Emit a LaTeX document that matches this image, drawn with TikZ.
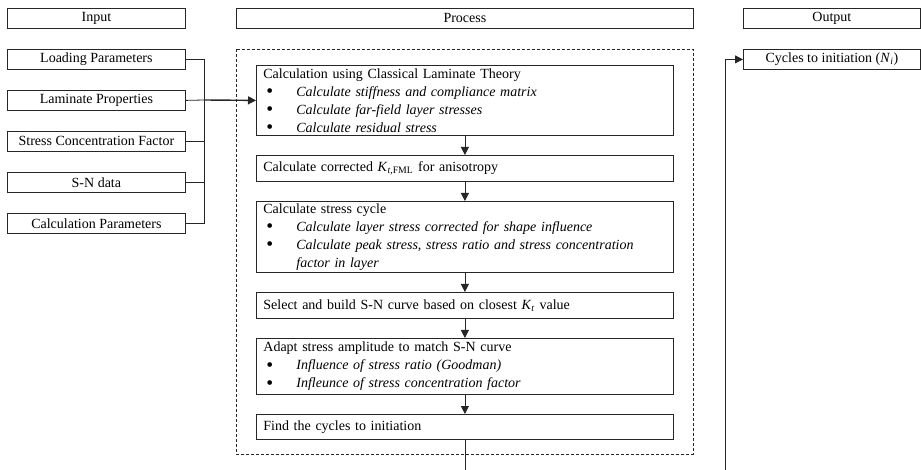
\documentclass[tikz,border=0pt]{standalone}
\usepackage{fontspec}
\setmainfont{Liberation Serif}
\usetikzlibrary{arrows.meta}
% bullet line inside a step box: dot, then italic text
\newcommand\bulitem[1]{\\\makebox[33pt][l]{\hspace{3pt}\smash{\raisebox{-1.3pt}{\scalebox{1.4}{\textbullet}}}}\textit{#1}}
\begin{document}
\begin{tikzpicture}[x=1pt,y=-1pt,
  box/.style={draw=black!85,line width=0.8pt,rectangle,inner sep=0pt,
    font=\fontsize{14}{18}\selectfont},
  colhead/.style={box,minimum height=20pt,anchor=north west},
  inbox/.style={box,minimum width=178pt,minimum height=20pt,anchor=north west},
  stepbox/.style={box,anchor=north west,text width=403pt,inner xsep=7pt,align=left},
  link/.style={draw=black!85,line width=0.8pt},
  arr/.style={link,-{Triangle[length=8pt,width=8pt]}},
]
\useasboundingbox (0,0) rectangle (921,470);

% column headings
\node[colhead,minimum width=178pt] (hin) at (7,8) {Input};
\node[colhead,minimum width=457pt] (hproc) at (236,8) {Process};
\node[colhead,minimum width=177pt] (hout) at (743,8) {Output};

% inputs
\node[inbox] (lp) at (7,49) {Loading Parameters};
\node[inbox] (lam) at (7,90) {Laminate Properties};
\node[inbox] (sc) at (7,131) {Stress Concentration Factor};
\node[inbox] (sn) at (7,172) {S-N data};
\node[inbox] (cp) at (7,213) {Calculation Parameters};

% process container
\draw[draw=black!85,line width=0.8pt,dash pattern=on 3pt off 2pt] (236,49) rectangle (693,454);

% process steps
\node[stepbox,minimum height=70pt] (c1) at (256,65)
  {Calculation using Classical Laminate Theory%
   \bulitem{Calculate stiffness and compliance matrix}%
   \bulitem{Calculate far-field layer stresses}%
   \bulitem{Calculate residual stress}};
\node[stepbox,minimum height=26pt] (c2) at (256,155)
  {Calculate corrected \textit{K}\textsubscript{\textit{t},FML} for anisotropy};
\node[stepbox,minimum height=71pt] (c3) at (256,201)
  {Calculate stress cycle%
   \bulitem{Calculate layer stress corrected for shape influence}%
   \bulitem{Calculate peak stress, stress ratio and stress concentration}\\
   \hspace*{33pt}\textit{factor in layer}};
\node[stepbox,minimum height=26pt] (c4) at (256,292)
  {Select and build S-N curve based on closest \textit{K}\textsubscript{\textit{t}} value};
\node[stepbox,minimum height=56pt] (c5) at (256,338)
  {Adapt stress amplitude to match S-N curve%
   \bulitem{Influence of stress ratio (Goodman)}%
   \bulitem{Infleunce of stress concentration factor}};
\node[stepbox,minimum height=25pt] (c6) at (256,414)
  {Find the cycles to initiation};

% output
\node[inbox,minimum width=177pt] (ni) at (743,49)
  {Cycles to initiation (\textit{N}\textsubscript{\textit{i}})};

% inputs gathered on a bus into the first step
\coordinate (bus) at (204,100);
\foreach \n in {lp,sc,sn,cp} \draw[link] (\n.east) -| (bus);
\draw[link] (lam.east) -- (bus);
\draw[arr,line width=1.4pt] (bus) -- (c1.west);

% step sequence
\draw[arr] (c1.south) -- (c2.north);
\draw[arr] (c2.south) -- (c3.north);
\draw[arr] (c3.south) -- (c4.north);
\draw[arr] (c4.south) -- (c5.north);
\draw[arr] (c5.south) -- (c6.north);

% result routed below the process column up to the output
\coordinate (loop) at (725,490);
\draw[arr] (c6.south) |- (loop) |- (ni.west);
\end{tikzpicture}
\end{document}
